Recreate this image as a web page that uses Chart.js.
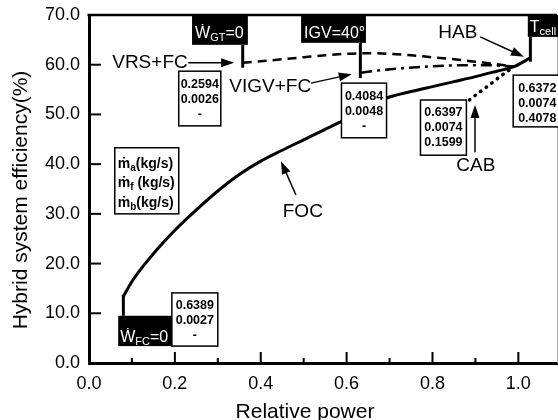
<!DOCTYPE html>
<html>
<head>
<meta charset="utf-8">
<script src="https://cdn.jsdelivr.net/npm/chart.js@4.4.1/dist/chart.umd.min.js"></script>
<style>
  html, body { margin: 0; padding: 0; background: #fff; overflow: hidden; }
  #wrap { width: 558px; height: 420px; }
</style>
</head>
<body>
<div id="wrap"><canvas id="effChart" width="558" height="420"></canvas></div>
<script>
// axes
const xTickValues = [0, 0.1, 0.2, 0.3, 0.4, 0.5, 0.6, 0.7, 0.8, 0.9, 1.0];
const yTickValues = [0, 10, 20, 30, 40, 50, 60, 70];

// FOC : fuel cell + gas turbine, full operating curve
const focPower = [0.08, 0.10, 0.13, 0.16, 0.20, 0.25, 0.30, 0.35, 0.40, 0.45, 0.50, 0.55, 0.60, 0.65, 0.69, 0.75, 0.80, 0.85, 0.90, 0.95, 0.99, 1.028];
const focEff = [13.4, 16.4, 19.9, 23.0, 26.7, 30.8, 34.6, 37.9, 40.6, 42.8, 44.9, 47.0, 49.1, 51.3, 53.2, 54.6, 55.6, 56.6, 57.6, 58.7, 59.6, 61.4];

// VRS+FC
const vrsPower = [0.358, 0.40, 0.45, 0.50, 0.55, 0.60, 0.65, 0.70, 0.75, 0.80, 0.85, 0.90, 0.95, 0.99];
const vrsEff = [60.4, 60.7, 61.1, 61.5, 61.9, 62.2, 62.3, 62.2, 61.9, 61.5, 61.1, 60.6, 60.1, 59.6];

// VIGV+FC
const vigvPower = [0.634, 0.68, 0.73, 0.78, 0.83, 0.88, 0.93, 0.99];
const vigvEff = [58.4, 58.9, 59.3, 59.6, 59.8, 59.9, 59.9, 59.6];

// CAB
const cabPower = [0.886, 0.91, 0.935, 0.96, 0.99];
const cabEff = [52.9, 54.5, 56.1, 57.8, 59.6];

// operating limits (W_FC=0, W_GT=0, IGV=40°, T_cell)
const limitPower = [0.08, 0.358, 0.632, 1.028];
const limitLow = [9.5, 59.4, 57.3, 60.6];
const limitHigh = [13.7, 64.0, 64.4, 65.6];

// mass flows at the marked points
const airFlow = ['0.2594', '0.4084', '0.6372', '0.6397', '0.6389'];
const fuelFlow = ['0.0026', '0.0048', '0.0074', '0.0074', '0.0027'];
const burnerFlow = ['-', '-', '0.4078', '0.1599', '-'];

const FONT = '"Liberation Sans", Arial, sans-serif';

function pts(xs, ys) {
  return xs.map((x, i) => ({ x: x, y: ys[i] }));
}

const limitSets = limitPower.map((p, i) => ({
  data: [{ x: p, y: limitLow[i] }, { x: p, y: limitHigh[i] }],
  borderColor: '#000',
  borderWidth: 3,
  pointRadius: 0,
  showLine: true
}));

// boxes in data units: [x0, x1, yTop, yBottom]
const flowBoxes = [
  [0.209, 0.307, 58.7, 47.7],
  [0.588, 0.693, 56.3, 45.3],
  [0.988, 1.10, 57.9, 47.5],
  [0.772, 0.879, 52.9, 41.8],
  [0.193, 0.300, 14.1, 3.4]
];

function richText(ctx, parts, x, y) {
  let cx = x;
  parts.forEach(p => {
    ctx.font = (p.bold ? 'bold ' : '') + p.size + 'px ' + FONT;
    ctx.fillText(p.t, cx, y + (p.dy || 0));
    cx += ctx.measureText(p.t).width;
  });
}

function arrow(ctx, x1, y1, x2, y2) {
  const a = Math.atan2(y2 - y1, x2 - x1);
  const len = 13, half = 4.5;
  const c = Math.cos(a), s = Math.sin(a);
  ctx.beginPath();
  ctx.moveTo(x1, y1);
  ctx.lineTo(x2 - len * 0.8 * c, y2 - len * 0.8 * s);
  ctx.lineWidth = 1.5;
  ctx.stroke();
  ctx.beginPath();
  ctx.moveTo(x2, y2);
  ctx.lineTo(x2 - len * c + half * s, y2 - len * s - half * c);
  ctx.lineTo(x2 - len * c - half * s, y2 - len * s + half * c);
  ctx.closePath();
  ctx.fill();
}

const annotations = {
  id: 'annotations',
  afterDatasetsDraw(chart) {
    const ctx = chart.ctx;
    const xs = chart.scales.x, ys = chart.scales.y;
    const X = v => xs.getPixelForValue(v);
    const Y = v => ys.getPixelForValue(v);
    const area = chart.chartArea;
    ctx.save();

    // top frame + right edge
    ctx.strokeStyle = '#000';
    ctx.lineWidth = 2.5;
    ctx.beginPath();
    ctx.moveTo(area.left - 1.5, area.top);
    ctx.lineTo(area.right, area.top);
    ctx.stroke();
    ctx.strokeStyle = '#aaa';
    ctx.lineWidth = 1;
    ctx.beginPath();
    ctx.moveTo(area.right + 0.5, area.top);
    ctx.lineTo(area.right + 0.5, area.bottom);
    ctx.stroke();

    // inward tick marks
    ctx.strokeStyle = '#000';
    ctx.lineWidth = 2;
    xTickValues.forEach((v, i) => {
      const len = i % 2 === 0 ? 11 : 5;
      ctx.beginPath();
      ctx.moveTo(X(v), area.bottom);
      ctx.lineTo(X(v), area.bottom - len);
      ctx.stroke();
    });
    yTickValues.forEach(v => {
      ctx.beginPath();
      ctx.moveTo(area.left, Y(v));
      ctx.lineTo(area.left + 12, Y(v));
      ctx.stroke();
    });

    // mass flow boxes
    ctx.lineWidth = 1.5;
    ctx.textAlign = 'center';
    ctx.textBaseline = 'middle';
    ctx.font = 'bold 12.5px ' + FONT;
    flowBoxes.forEach((b, i) => {
      const x0 = X(b[0]), x1 = X(b[1]), y0 = Y(b[2]), y1 = Y(b[3]);
      ctx.fillStyle = '#fff';
      ctx.fillRect(x0, y0, x1 - x0, y1 - y0);
      ctx.strokeRect(x0, y0, x1 - x0, y1 - y0);
      ctx.fillStyle = '#000';
      const cx = (x0 + x1) / 2;
      ctx.fillText(airFlow[i], cx, y0 + 13);
      ctx.fillText(fuelFlow[i], cx, y0 + 28);
      ctx.fillText(burnerFlow[i], cx, y0 + 43);
    });

    // units box
    {
      const x0 = X(0.060), x1 = X(0.209), y0 = Y(43.3), y1 = Y(30.0);
      ctx.fillStyle = '#fff';
      ctx.fillRect(x0, y0, x1 - x0, y1 - y0);
      ctx.strokeRect(x0, y0, x1 - x0, y1 - y0);
      ctx.fillStyle = '#000';
      ctx.textAlign = 'left';
      ctx.textBaseline = 'alphabetic';
      const subs = ['a', 'f', 'b'];
      const gaps = ['', ' ', ''];
      subs.forEach((s, k) => {
        richText(ctx, [
          { t: '\u1E41', size: 14, bold: true },
          { t: s, size: 10, bold: true, dy: 3 },
          { t: gaps[k] + '(kg/s)', size: 14, bold: true }
        ], x0 + 3, y0 + 20 + k * 19.5);
      });
    }

    // black limit labels
    const blackBoxes = [
      { b: [0.240, 0.370, 70, 64.0], parts: [{ t: '\u1E86', size: 16 }, { t: 'GT', size: 11, dy: 3 }, { t: '=0', size: 16 }], dx: 3, base: 23 },
      { b: [0.494, 0.645, 70, 64.4], parts: [{ t: 'IGV=40\u00B0', size: 16 }], dx: 3, base: 23 },
      { b: [1.022, 1.10, 70, 65.6], parts: [{ t: 'T', size: 16 }, { t: 'cell', size: 11, dy: 3 }], dx: 2, base: 17 },
      { b: [0.068, 0.193, 9.5, 3.4], parts: [{ t: '\u1E86', size: 16 }, { t: 'FC', size: 11, dy: 3 }, { t: '=0', size: 16 }], dx: 2, base: 26 }
    ];
    blackBoxes.forEach(o => {
      const x0 = X(o.b[0]), x1 = X(o.b[1]), y0 = Y(o.b[2]), y1 = Y(o.b[3]);
      ctx.fillStyle = '#000';
      ctx.fillRect(x0, y0, x1 - x0, y1 - y0);
      ctx.fillStyle = '#fff';
      ctx.textAlign = 'left';
      ctx.textBaseline = 'alphabetic';
      richText(ctx, o.parts, x0 + o.dx, y0 + o.base);
    });

    // curve labels
    ctx.fillStyle = '#000';
    ctx.strokeStyle = '#000';
    ctx.textAlign = 'center';
    ctx.textBaseline = 'middle';
    const labels = [
      { t: 'VRS+FC', at: [0.142, 60.4], from: [0.231, 60.4], to: [0.338, 60.4] },
      { t: 'VIGV+FC', at: [0.422, 55.5], from: [0.517, 56.3], to: [0.612, 58.1] },
      { t: 'HAB', at: [0.859, 66.4], from: [0.911, 65.6], to: [1.013, 61.6] },
      { t: 'FOC', at: [0.498, 30.4], from: [0.482, 33.8], to: [0.447, 40.6] },
      { t: 'CAB', at: [0.901, 39.6], from: [0.899, 42.4], to: [0.899, 51.9] }
    ];
    labels.forEach(l => {
      ctx.font = '19px ' + FONT;
      ctx.fillText(l.t, X(l.at[0]), Y(l.at[1]));
      arrow(ctx, X(l.from[0]), Y(l.from[1]), X(l.to[0]), Y(l.to[1]));
    });

    // axis titles
    ctx.font = '21px ' + FONT;
    ctx.textAlign = 'center';
    ctx.textBaseline = 'alphabetic';
    ctx.fillText('Relative power', 305, 418);
    ctx.translate(27, 200);
    ctx.rotate(-Math.PI / 2);
    ctx.fillText('Hybrid system efficiency(%)', 0, 0);
    ctx.restore();
  }
};

const ctx = document.getElementById('effChart').getContext('2d');
new Chart(ctx, {
  type: 'scatter',
  data: {
    datasets: [
      {
        label: 'FOC',
        data: pts(focPower, focEff),
        borderColor: '#000',
        borderWidth: 3,
        showLine: true,
        pointRadius: 0,
        cubicInterpolationMode: 'monotone'
      },
      {
        label: 'VRS+FC',
        data: pts(vrsPower, vrsEff),
        borderColor: '#000',
        borderWidth: 2.5,
        borderDash: [9, 6],
        showLine: true,
        pointRadius: 0,
        cubicInterpolationMode: 'monotone'
      },
      {
        label: 'VIGV+FC',
        data: pts(vigvPower, vigvEff),
        borderColor: '#000',
        borderWidth: 2.5,
        borderDash: [11, 5, 3, 5],
        showLine: true,
        pointRadius: 0,
        cubicInterpolationMode: 'monotone'
      },
      {
        label: 'CAB',
        data: pts(cabPower, cabEff),
        borderColor: '#000',
        borderWidth: 3.5,
        borderDash: [0.5, 6.5],
        borderCapStyle: 'round',
        showLine: true,
        pointRadius: 0
      },
      ...limitSets
    ]
  },
  options: {
    responsive: false,
    devicePixelRatio: 1,
    animation: false,
    layout: { padding: { top: 15, right: 1, left: 0, bottom: 0 } },
    plugins: { legend: { display: false }, tooltip: { enabled: false } },
    scales: {
      x: {
        type: 'linear',
        min: 0,
        max: 1.09,
        grid: { display: false },
        border: { color: '#000', width: 3 },
        afterBuildTicks: s => { s.ticks = xTickValues.map(v => ({ value: v })); },
        afterFit: s => { s.height = 57; },
        ticks: {
          color: '#000',
          padding: 2,
          font: { family: FONT, size: 18 },
          maxRotation: 0,
          autoSkip: false,
          callback: (v, i) => (i % 2 === 0 ? Number(v).toFixed(1) : '')
        }
      },
      y: {
        min: 0,
        max: 70,
        grid: { display: false },
        border: { color: '#000', width: 3 },
        afterBuildTicks: s => { s.ticks = yTickValues.map(v => ({ value: v })); },
        afterFit: s => { s.width = 89; },
        ticks: {
          color: '#000',
          padding: 1,
          font: { family: FONT, size: 18 },
          callback: v => Number(v).toFixed(1)
        }
      }
    }
  },
  plugins: [annotations]
});
</script>
</body>
</html>
